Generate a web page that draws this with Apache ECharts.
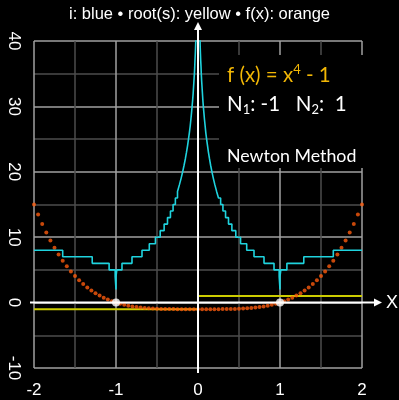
<!DOCTYPE html>
<html>
<head>
<meta charset="utf-8">
<script src="https://cdn.jsdelivr.net/npm/echarts@6/dist/echarts.min.js"></script>
<style>
  html, body { margin: 0; padding: 0; background: #000; }
  #chart { width: 399px; height: 400px; }
</style>
</head>
<body>
<div id="chart"></div>
<script>
  // tick labels
  const xLabels = [-2, -1, 0, 1, 2];
  const yLabels = [-10, 0, 10, 20, 30, 40];

  // i: iterations of Newton's method per start value (step line, value holds until next x)
  const iterX = [-2, -1.65, -1.29, -1.084, -1.01, -1, -1, -0.99, -0.927, -0.805, -0.683, -0.594, -0.519, -0.461,
    -0.413, -0.372, -0.336, -0.304, -0.276, -0.25, -0.227, -0.206, -0.187, -0.17, -0.154, -0.14, -0.127, -0.116,
    -0.105, -0.095, -0.087, -0.079, -0.072, -0.065, -0.059, -0.054, -0.049, -0.044, -0.04, -0.037, -0.033, -0.03,
    -0.027, -0.025, 0,
    0.025, 0.027, 0.03, 0.033, 0.037, 0.04, 0.044, 0.049, 0.054, 0.059, 0.065, 0.072, 0.079, 0.087, 0.095, 0.105,
    0.116, 0.127, 0.14, 0.154, 0.17, 0.187, 0.206, 0.227, 0.25, 0.276, 0.304, 0.336, 0.372, 0.413, 0.461, 0.519,
    0.594, 0.683, 0.805, 0.927, 0.99, 1, 1, 1.01, 1.084, 1.29, 1.65, 2];
  const iterN = [8, 7, 6, 5, 4, 2, 4, 5, 6, 7, 8, 9, 10, 11,
    12, 13, 14, 15, 16, 17, 18, 19, 20, 21, 22, 23, 24, 25,
    26, 27, 28, 29, 30, 31, 32, 33, 34, 35, 36, 37, 38, 39,
    40, 41, 60,
    40, 39, 38, 37, 36, 35, 34, 33, 32, 31, 30, 29, 28, 27, 26, 25,
    24, 23, 22, 21, 20, 19, 18, 17, 16, 15, 14, 13, 12, 11, 10, 9,
    8, 7, 6, 5, 4, 2, 4, 5, 6, 7, 8, 8];

  // root reached from each side
  const rootLeftX = [-2, 0];
  const rootLeftY = [-1, -1];
  const rootRightX = [0, 2];
  const rootRightY = [1, 1];

  // f(x) dots
  const fxX = [-2, -1.95, -1.9, -1.85, -1.8, -1.75, -1.7, -1.65, -1.6, -1.55, -1.5, -1.45, -1.4, -1.35, -1.3,
    -1.25, -1.2, -1.15, -1.1, -1.05, -1, -0.95, -0.9, -0.85, -0.8, -0.75, -0.7, -0.65, -0.6, -0.55, -0.5,
    -0.45, -0.4, -0.35, -0.3, -0.25, -0.2, -0.15, -0.1, -0.05, 0,
    0.05, 0.1, 0.15, 0.2, 0.25, 0.3, 0.35, 0.4, 0.45, 0.5, 0.55, 0.6, 0.65, 0.7, 0.75, 0.8, 0.85, 0.9, 0.95,
    1, 1.05, 1.1, 1.15, 1.2, 1.25, 1.3, 1.35, 1.4, 1.45, 1.5, 1.55, 1.6, 1.65, 1.7, 1.75, 1.8, 1.85, 1.9,
    1.95, 2];
  const fxY = [15, 13.46, 12.03, 10.71, 9.5, 8.38, 7.35, 6.41, 5.55, 4.77, 4.06, 3.42, 2.84, 2.32, 1.86,
    1.44, 1.07, 0.75, 0.46, 0.22, 0, -0.19, -0.34, -0.48, -0.59, -0.68, -0.76, -0.82, -0.87, -0.91, -0.94,
    -0.96, -0.97, -0.98, -0.99, -1, -1, -1, -1, -1, -1,
    -1, -1, -1, -1, -1, -0.99, -0.98, -0.97, -0.96, -0.94, -0.91, -0.87, -0.82, -0.76, -0.68, -0.59, -0.48, -0.34, -0.19,
    0, 0.22, 0.46, 0.75, 1.07, 1.44, 1.86, 2.32, 2.84, 3.42, 4.06, 4.77, 5.55, 6.41, 7.35, 8.38, 9.5, 10.71, 12.03,
    13.46, 15];

  // roots marked on the x axis
  const rootsX = [-1, 1];
  const rootsY = [0, 0];

  const zip = (a, b) => a.map((v, i) => [v, b[i]]);
  const labelFont = '"Liberation Sans", Arial, sans-serif';

  const chart = echarts.init(document.getElementById('chart'));
  chart.setOption({
    backgroundColor: '#000',
    animation: false,
    title: {
      text: 'i: blue \u2022 root(s): yellow \u2022 f(x): orange',
      left: 'center',
      top: 1,
      textStyle: { color: '#fff', fontSize: 16.5, fontWeight: 'normal', fontFamily: labelFont }
    },
    grid: { left: 34, right: 37, top: 41, bottom: 32 },
    xAxis: {
      type: 'value',
      min: -2, max: 2, interval: 0.5,
      axisLine: { show: false, onZero: false },
      axisTick: { show: false },
      axisLabel: {
        color: '#fff', fontSize: 17, fontFamily: labelFont, margin: 14,
        formatter: v => xLabels.includes(v) ? String(v) : ''
      },
      splitLine: { show: true, lineStyle: { color: ['#a0a0a0', '#4c4c4c'], width: 1.5 } }
    },
    yAxis: {
      type: 'value',
      min: -10, max: 40, interval: 5,
      axisLine: { show: false, onZero: false },
      axisTick: { show: false },
      axisLabel: {
        color: '#fff', fontSize: 17, fontFamily: labelFont, margin: 12, rotate: -90,
        formatter: v => yLabels.includes(v) ? String(v) : ''
      },
      splitLine: { show: true, lineStyle: { color: ['#a0a0a0', '#4c4c4c'], width: 1.5 } }
    },
    series: [
      {
        name: 'root left', type: 'line', data: zip(rootLeftX, rootLeftY),
        showSymbol: false, lineStyle: { color: '#cccc00', width: 2 }, z: 3
      },
      {
        name: 'root right', type: 'line', data: zip(rootRightX, rootRightY),
        showSymbol: false, lineStyle: { color: '#cccc00', width: 2 }, z: 3
      },
      {
        name: 'f(x)', type: 'scatter', data: zip(fxX, fxY),
        symbol: 'circle', symbolSize: 4, itemStyle: { color: '#fa5a0c' }, z: 4
      },
      {
        name: 'i', type: 'line', data: zip(iterX, iterN), step: 'end',
        showSymbol: false, clip: true, lineStyle: { color: '#1fd3de', width: 1.6 }, z: 5
      },
      {
        name: 'roots', type: 'scatter', data: zip(rootsX, rootsY),
        symbol: 'circle', symbolSize: 8, itemStyle: { color: '#fff' }, z: 10
      }
    ]
  });

  // axis lines through the origin with arrows, and the text panel
  const a = chart.convertToPixel({ gridIndex: 0 }, [-2, 0]);
  const b = chart.convertToPixel({ gridIndex: 0 }, [2, 0]);
  const c = chart.convertToPixel({ gridIndex: 0 }, [0, -10]);
  const d = chart.convertToPixel({ gridIndex: 0 }, [0, 40]);
  const annFont = 'Lato, "Open Sans", sans-serif';

  chart.setOption({
    graphic: [
      { type: 'rect', shape: { x: 219, y: 55, width: 150, height: 113 }, style: { fill: '#000' }, z: 2 },
      { type: 'line', shape: { x1: a[0] - 4, y1: a[1], x2: b[0] + 12, y2: b[1] }, style: { stroke: '#fff', lineWidth: 2 }, z: 8 },
      { type: 'polygon', shape: { points: [[b[0] + 12, b[1] - 4], [b[0] + 20, b[1]], [b[0] + 12, b[1] + 4]] }, style: { fill: '#fff' }, z: 8 },
      { type: 'text', x: b[0] + 30, y: b[1], style: { text: 'X', fill: '#fff', font: '18px ' + labelFont, align: 'center', verticalAlign: 'middle' }, z: 8 },
      { type: 'line', shape: { x1: c[0], y1: c[1] + 5, x2: d[0], y2: d[1] - 11 }, style: { stroke: '#fff', lineWidth: 2 }, z: 8 },
      { type: 'polygon', shape: { points: [[d[0] - 4, d[1] - 11], [d[0], d[1] - 19], [d[0] + 4, d[1] - 11]] }, style: { fill: '#fff' }, z: 8 },
      {
        type: 'text', x: 227, y: 75, z: 9,
        style: {
          text: '{m|f (x) = x}{s|4}{m| - 1}',
          verticalAlign: 'middle',
          rich: {
            m: { fill: '#f2b705', fontSize: 20.5, fontFamily: annFont, lineHeight: 24 },
            s: { fill: '#f2b705', fontSize: 13, fontFamily: annFont, lineHeight: 13, verticalAlign: 'top' }
          }
        }
      },
      {
        type: 'text', x: 227, y: 104, z: 9,
        style: {
          text: '{m|N}{s|1}{m|: -1   N}{s|2}{m|:  1}',
          verticalAlign: 'middle',
          rich: {
            m: { fill: '#fff', fontSize: 20.5, fontFamily: annFont, lineHeight: 24 },
            s: { fill: '#fff', fontSize: 13, fontFamily: annFont, lineHeight: 13, verticalAlign: 'bottom' }
          }
        }
      },
      {
        type: 'text', x: 227, y: 156, z: 9,
        style: { text: 'Newton Method', fill: '#fff', font: '17.8px ' + annFont, verticalAlign: 'middle' }
      }
    ]
  });
</script>
</body>
</html>
